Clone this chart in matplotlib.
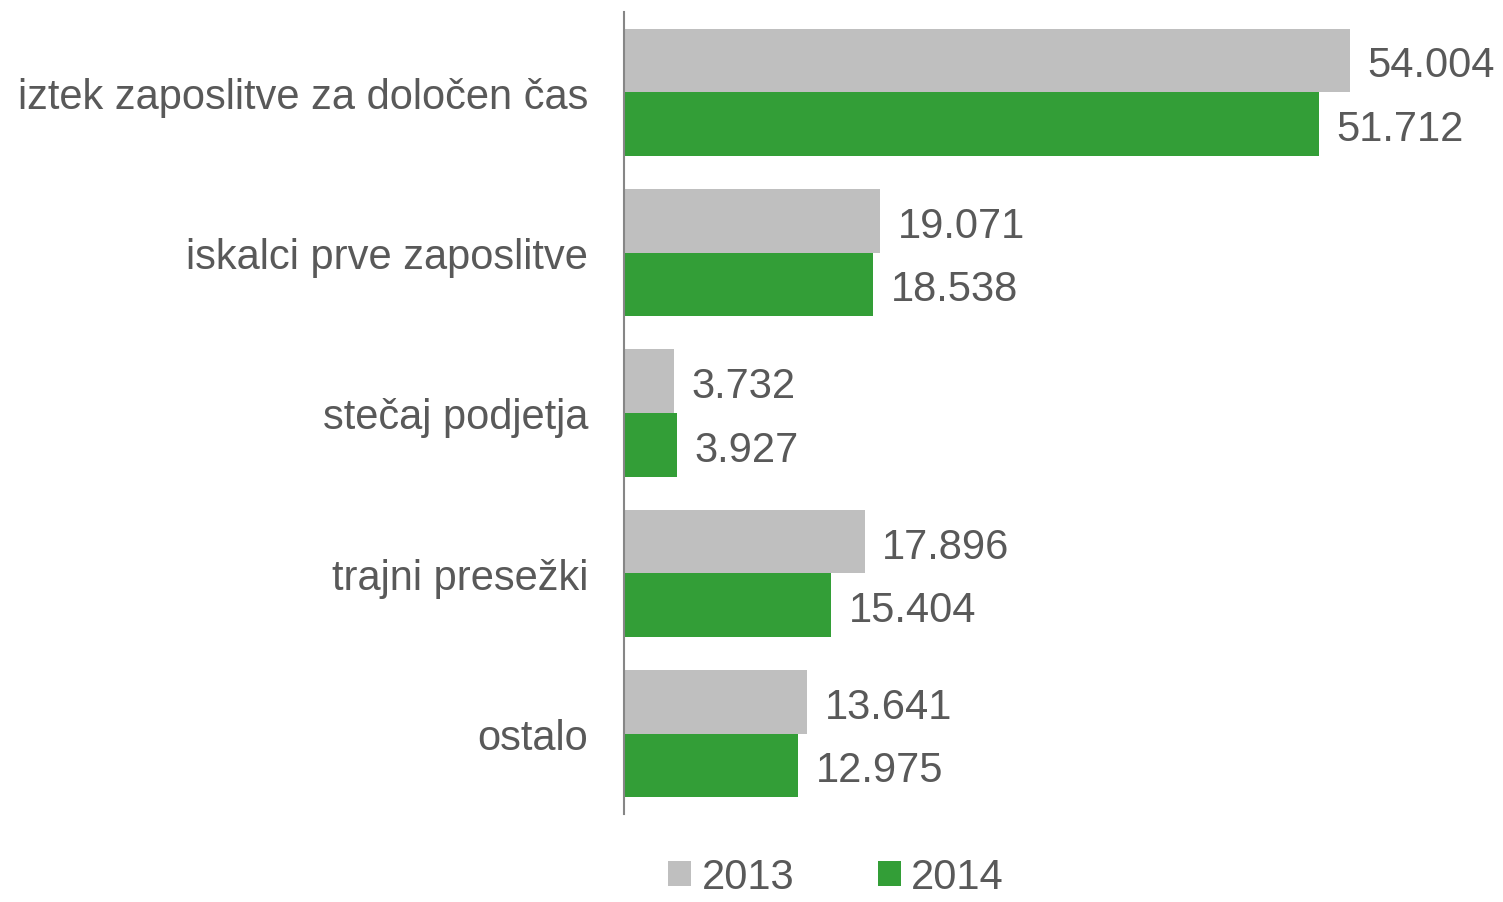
import matplotlib
matplotlib.use("Agg")
import matplotlib.pyplot as plt
from matplotlib.patches import Patch
import numpy as np

categories = ["iztek zaposlitve za določen čas", "iskalci prve zaposlitve",
              "stečaj podjetja", "trajni presežki", "ostalo"]
series_names = ["2013", "2014"]
values_2013 = [54.004, 19.071, 3.732, 17.896, 13.641]
values_2014 = [51.712, 18.538, 3.927, 15.404, 12.975]

plt.rcParams['font.family'] = ['Liberation Sans', 'DejaVu Sans']
text_color = "#595959"
c2013 = "#BFBFBF"
c2014 = "#339E37"

fig = plt.figure(figsize=(15.03, 9.03), dpi=100)
ax = fig.add_axes([624/1503, 1 - 815/903, 879/1503, 802/903])

y = np.arange(len(categories))
h = 0.396
b1 = ax.barh(y - h/2, values_2013, height=h, color=c2013, label=series_names[0])
b2 = ax.barh(y + h/2, values_2014, height=h, color=c2014, label=series_names[1])

fs = 30
for bars, vals in ((b1, values_2013), (b2, values_2014)):
    for rect, v in zip(bars, vals):
        ax.annotate(f"{v:.3f}", xy=(rect.get_width(), rect.get_y() + rect.get_height()/2),
                    xytext=(12.5, -3.5), textcoords="offset points",
                    va="center", ha="left", fontsize=fs, color=text_color)

ax.set_xlim(0, 879/13.44)
ax.set_ylim(len(categories) - 0.5, -0.5)
ax.set_yticks(y)
ax.set_yticklabels(categories, fontsize=fs, color=text_color)
ax.tick_params(axis='y', length=0, pad=26)
ax.set_xticks([])
for s in ("top", "right", "bottom"):
    ax.spines[s].set_visible(False)
ax.spines["left"].set_color("#868686")
ax.spines["left"].set_linewidth(1.5)

handles = [Patch(facecolor=c2013, label=series_names[0]),
           Patch(facecolor=c2014, label=series_names[1])]
leg = fig.legend(handles=handles, loc="center", bbox_to_anchor=(836/1503, 1 - 878/903),
                 ncol=2, frameon=False, fontsize=fs, handlelength=0.55, handleheight=0.55,
                 handletextpad=0.25, columnspacing=2.0, borderpad=0)
for t in leg.get_texts():
    t.set_color(text_color)

fig.savefig("out.png", dpi=100)
